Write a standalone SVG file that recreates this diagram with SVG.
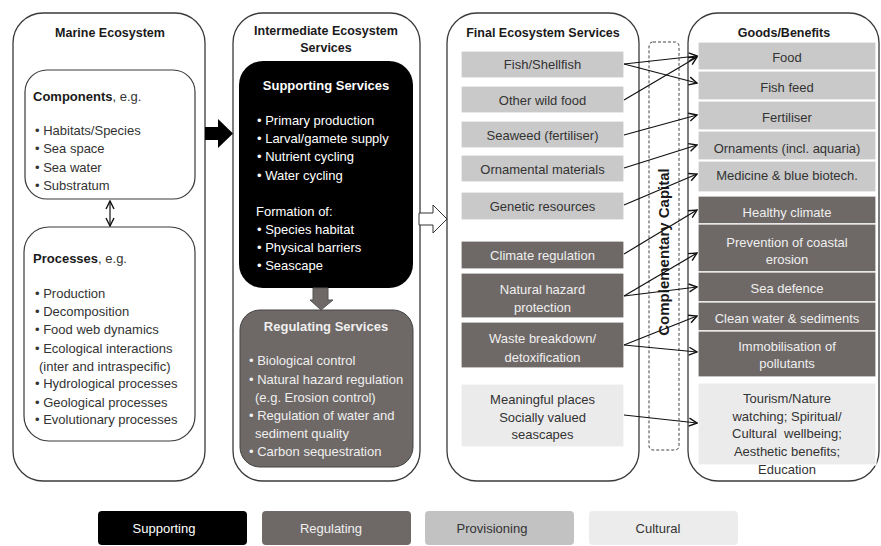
<svg xmlns="http://www.w3.org/2000/svg" width="881" height="546" viewBox="0 0 881 546">
<defs>
<style>
.outer{fill:#fff;stroke:#3a3a3a;stroke-width:1.3}
.inner{fill:#fff;stroke:#3a3a3a;stroke-width:1.2}
.t{font-family:"Liberation Sans",Arial,sans-serif;font-size:13px;fill:#333}
.ti{font-family:"Liberation Sans",Arial,sans-serif;font-size:12.5px;font-weight:bold;fill:#1a1a1a;text-anchor:middle}
.c{text-anchor:middle}
.w{fill:#fff}
.lw{fill:#f0efef}
.bd{font-weight:bold}
.prov{fill:#c9c9c9;stroke:#fff;stroke-width:1.2}
.reg{fill:#6e6967;stroke:#fff;stroke-width:1.2}
.cult{fill:#ebebeb;stroke:#fff;stroke-width:1.2}
.con{fill:none;stroke:#111;stroke-width:1.2}
</style>
<marker id="ah" viewBox="0 0 10 10" refX="9" refY="5" markerWidth="10" markerHeight="10" orient="auto-start-reverse" markerUnits="userSpaceOnUse">
<path d="M1,1 L9,5 L1,9" fill="none" stroke="#111" stroke-width="1.4"/>
</marker>
</defs>
<rect width="881" height="546" fill="#fff"/>

<!-- Marine Ecosystem -->
<g id="marine">
<rect class="outer" x="13" y="13" width="192" height="468" rx="30"/>
<text class="ti" x="110" y="37">Marine Ecosystem</text>
</g>
<g id="components">
<rect class="inner" x="25" y="70" width="170" height="129" rx="22"/>
<text class="t" x="33" y="101"><tspan class="bd" fill="#1a1a1a">Components</tspan>, e.g.</text>
<text class="t" x="35" y="134.5">• Habitats/Species</text>
<text class="t" x="35" y="153">• Sea space</text>
<text class="t" x="35" y="171.5">• Sea water</text>
<text class="t" x="35" y="189.5">• Substratum</text>
</g>
<g id="processes">
<rect class="inner" x="24" y="227" width="171" height="214" rx="25"/>
<text class="t" x="33" y="262.5"><tspan class="bd" fill="#1a1a1a">Processes</tspan>, e.g.</text>
<text class="t" x="35" y="297.5">• Production</text>
<text class="t" x="35" y="315.5">• Decomposition</text>
<text class="t" x="35" y="333.5">• Food web dynamics</text>
<text class="t" x="35" y="352.5">• Ecological interactions</text>
<text class="t" x="39" y="370.5">(inter and intraspecific)</text>
<text class="t" x="35" y="387.5">• Hydrological processes</text>
<text class="t" x="35" y="406.5">• Geological processes</text>
<text class="t" x="35" y="423.5">• Evolutionary processes</text>
</g>

<!-- Intermediate -->
<g id="intermediate">
<rect class="outer" x="233" y="13" width="187" height="468" rx="30"/>
<text class="ti" x="326" y="34.5">Intermediate Ecosystem</text>
<text class="ti" x="326" y="51.5">Services</text>
</g>
<g id="supporting">
<rect x="239" y="61" width="174" height="227" rx="24" fill="#000"/>
<text class="ti w" x="326" y="89.5" style="font-size:13px;fill:#fff">Supporting Services</text>
<text class="t w" x="257" y="124.5">• Primary production</text>
<text class="t w" x="257" y="142.5">• Larval/gamete supply</text>
<text class="t w" x="257" y="160.5">• Nutrient cycling</text>
<text class="t w" x="257" y="179.5">• Water cycling</text>
<text class="t w" x="256" y="215.5">Formation of:</text>
<text class="t w" x="257" y="233.5">• Species habitat</text>
<text class="t w" x="257" y="251.5">• Physical barriers</text>
<text class="t w" x="257" y="269.5">• Seascape</text>
</g>
<g id="regulating">
<rect x="240" y="310" width="173" height="157" rx="20" fill="#6e6967" stroke="#444" stroke-width="1"/>
<text class="ti" x="326" y="330.5" style="font-size:13px;fill:#f0efef">Regulating Services</text>
<text class="t lw" x="249" y="364.5">• Biological control</text>
<text class="t lw" x="249" y="383.5">• Natural hazard regulation</text>
<text class="t lw" x="255" y="401.5">(e.g. Erosion control)</text>
<text class="t lw" x="249" y="419.5">• Regulation of water and</text>
<text class="t lw" x="255" y="437.5">sediment quality</text>
<text class="t lw" x="249" y="455.5">• Carbon sequestration</text>
</g>

<!-- Final -->
<g id="final">
<rect class="outer" x="447" y="13" width="192" height="468" rx="30"/>
<text class="ti" x="543" y="36.5">Final Ecosystem Services</text>
</g>
<g id="f-fish"><rect class="prov" x="461" y="51" width="163" height="27"/><text class="t c" x="542.5" y="69">Fish/Shellfish</text></g>
<g id="f-wild"><rect class="prov" x="461" y="86" width="163" height="27"/><text class="t c" x="542.5" y="104.5">Other wild food</text></g>
<g id="f-seaweed"><rect class="prov" x="461" y="121" width="163" height="27"/><text class="t c" x="542.5" y="139.5">Seaweed (fertiliser)</text></g>
<g id="f-ornamental"><rect class="prov" x="461" y="155" width="163" height="27"/><text class="t c" x="542.5" y="173.5">Ornamental materials</text></g>
<g id="f-genetic"><rect class="prov" x="461" y="192" width="163" height="28"/><text class="t c" x="542.5" y="211">Genetic resources</text></g>
<g id="f-climate"><rect class="reg" x="461" y="241" width="163" height="28"/><text class="t c lw" x="542.5" y="260">Climate regulation</text></g>
<g id="f-hazard"><rect class="reg" x="461" y="273" width="163" height="45"/><text class="t c lw" x="542.5" y="293.5">Natural hazard</text><text class="t c lw" x="542.5" y="311.5">protection</text></g>
<g id="f-waste"><rect class="reg" x="461" y="322" width="163" height="46"/><text class="t c lw" x="542.5" y="342.5">Waste breakdown/</text><text class="t c lw" x="542.5" y="361.5">detoxification</text></g>
<g id="f-cultural"><rect class="cult" x="461" y="384" width="163" height="63"/><text class="t c" x="542.5" y="403.5">Meaningful places</text><text class="t c" x="542.5" y="421.5">Socially valued</text><text class="t c" x="542.5" y="438.5">seascapes</text></g>

<!-- Complementary capital -->
<g id="capital">
<rect x="649" y="42" width="30" height="408" rx="4" fill="none" stroke="#444" stroke-width="1" stroke-dasharray="3,2"/>
<text transform="translate(669,252) rotate(-90)" font-family="Liberation Sans, Arial, sans-serif" font-size="15" font-weight="bold" fill="#1a1a1a" text-anchor="middle">Complementary Capital</text>
</g>

<!-- Goods -->
<g id="goods">
<rect class="outer" x="688" y="13" width="191" height="468" rx="30"/>
<text class="ti" x="784" y="36.5">Goods/Benefits</text>
</g>
<g id="g-food"><rect class="prov" x="698" y="42" width="178" height="28"/><text class="t c" x="787" y="61.5">Food</text></g>
<g id="g-fishfeed"><rect class="prov" x="698" y="71" width="178" height="29"/><text class="t c" x="787" y="91.5">Fish feed</text></g>
<g id="g-fertiliser"><rect class="prov" x="698" y="101" width="178" height="29"/><text class="t c" x="787" y="121.5">Fertiliser</text></g>
<g id="g-ornaments"><rect class="prov" x="698" y="131" width="178" height="29"/><text class="t c" x="787" y="152.5">Ornaments (incl. aquaria)</text></g>
<g id="g-medicine"><rect class="prov" x="698" y="161" width="178" height="31"/><text class="t c" x="787" y="179.5">Medicine &amp; blue biotech.</text></g>
<g id="g-climate"><rect class="reg" x="698" y="196" width="178" height="28"/><text class="t c lw" x="787" y="216.5">Healthy climate</text></g>
<g id="g-erosion"><rect class="reg" x="698" y="224" width="178" height="48"/><text class="t c lw" x="787" y="246.5">Prevention of coastal</text><text class="t c lw" x="787" y="263.5">erosion</text></g>
<g id="g-sea"><rect class="reg" x="698" y="272" width="178" height="30"/><text class="t c lw" x="787" y="292.5">Sea defence</text></g>
<g id="g-water"><rect class="reg" x="698" y="302" width="178" height="29"/><text class="t c lw" x="787" y="322.5">Clean water &amp; sediments</text></g>
<g id="g-pollutants"><rect class="reg" x="698" y="331" width="178" height="46"/><text class="t c lw" x="787" y="350.5">Immobilisation of</text><text class="t c lw" x="787" y="367.5">pollutants</text></g>
<g id="g-tourism"><rect class="cult" x="698" y="383" width="178" height="82"/><text class="t c" x="787" y="402.5">Tourism/Nature</text><text class="t c" x="787" y="420.5">watching; Spiritual/</text><text class="t c" x="787" y="437.5" style="white-space:pre">Cultural  wellbeing;</text><text class="t c" x="787" y="455.5">Aesthetic benefits;</text><text class="t c" x="787" y="473.5">Education</text></g>

<!-- Connectors -->
<g id="connectors">
<path class="con" d="M110,201 L110,226" marker-start="url(#ah)" marker-end="url(#ah)"/>
<polygon points="205,127 218,127 218,119 233,133.5 218,148 218,140 205,140" fill="#000"/>
<polygon points="419,213 433,213 433,205 447,219 433,233 433,225 419,225" fill="#fff" stroke="#333" stroke-width="1"/>
<polygon points="313,288 328,288 328,300 333,300 321,310 310,300 313,300" fill="#6e6967" stroke="#555" stroke-width="1"/>
<line class="con" x1="624" y1="64" x2="697" y2="56" marker-end="url(#ah)"/>
<line class="con" x1="624" y1="64" x2="697" y2="83" marker-end="url(#ah)"/>
<line class="con" x1="624" y1="100" x2="697" y2="57" marker-end="url(#ah)"/>
<line class="con" x1="624" y1="135" x2="697" y2="115" marker-end="url(#ah)"/>
<line class="con" x1="624" y1="168" x2="697" y2="145" marker-end="url(#ah)"/>
<line class="con" x1="624" y1="205" x2="697" y2="174" marker-end="url(#ah)"/>
<line class="con" x1="624" y1="254" x2="697" y2="210" marker-end="url(#ah)"/>
<line class="con" x1="624" y1="296" x2="697" y2="253" marker-end="url(#ah)"/>
<line class="con" x1="624" y1="296" x2="697" y2="287" marker-end="url(#ah)"/>
<line class="con" x1="624" y1="345" x2="697" y2="316" marker-end="url(#ah)"/>
<line class="con" x1="624" y1="345" x2="697" y2="352" marker-end="url(#ah)"/>
<line class="con" x1="624" y1="415" x2="697" y2="423" marker-end="url(#ah)"/>
</g>

<!-- Legend -->
<g id="legend-supporting"><rect x="98" y="511" width="149" height="34" rx="4" fill="#000"/><text class="t" x="164" y="532.5" style="fill:#fff" text-anchor="middle">Supporting</text></g>
<g id="legend-regulating"><rect x="262" y="511" width="149" height="34" rx="4" fill="#6e6967"/><text class="t c lw" x="331" y="532.5">Regulating</text></g>
<g id="legend-provisioning"><rect x="425" y="511" width="149" height="34" rx="4" fill="#c2c2c2"/><text class="t c" x="492" y="532.5">Provisioning</text></g>
<g id="legend-cultural"><rect x="589" y="511" width="149" height="34" rx="4" fill="#ececec"/><text class="t c" x="658" y="532.5">Cultural</text></g>
</svg>
